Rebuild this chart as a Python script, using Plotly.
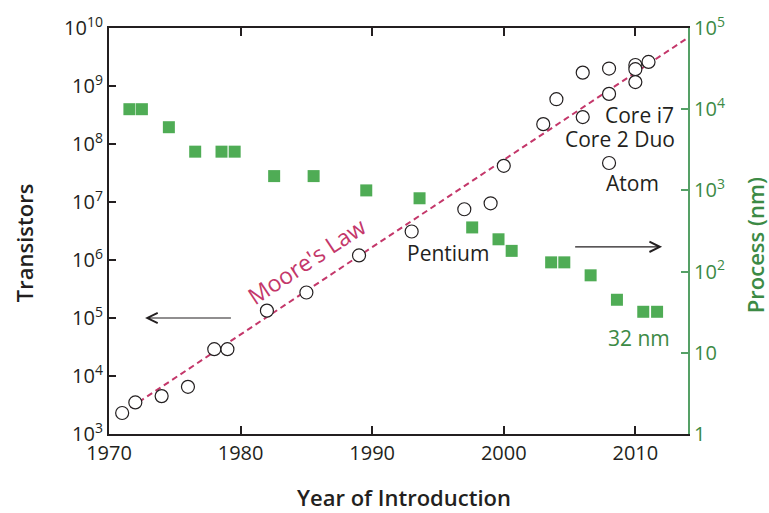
import plotly.graph_objects as go

# Transistor counts of microprocessors by year of introduction
chip_years = [1971, 1972, 1974, 1976, 1978, 1979, 1982, 1985, 1989, 1993,
              1997, 1999, 2000, 2003, 2004, 2006, 2006, 2008, 2008, 2008,
              2010, 2010, 2010, 2011]
chip_transistors = [2.3e3, 3.5e3, 4.5e3, 6.5e3, 2.9e4, 2.9e4, 1.34e5, 2.75e5,
                    1.2e6, 3.1e6, 7.5e6, 9.5e6, 4.2e7, 2.2e8, 5.92e8, 1.7e9,
                    2.91e8, 2.0e9, 7.31e8, 4.7e7, 2.3e9, 1.95e9, 1.17e9, 2.6e9]

# Manufacturing process feature size (nm)
process_years = [1971.55, 1972.5, 1974.55, 1976.55, 1978.55, 1979.55, 1982.55,
                 1985.55, 1989.55, 1993.6, 1997.6, 1999.6, 2000.6, 2003.6,
                 2004.6, 2006.6, 2008.6, 2010.6, 2011.65]
process_nm = [10000, 10000, 6000, 3000, 3000, 3000, 1500, 1500, 1000, 800,
              350, 250, 180, 130, 130, 90, 45, 32, 32]

# Moore's law trend: doubling every two years (end points)
moore_years = [1971, 2014]
moore_counts = [2.3e3, 6.8e9]

# Axis tick labels
year_ticks = [1970, 1980, 1990, 2000, 2010]
transistor_exponents = [3, 4, 5, 6, 7, 8, 9, 10]
process_exponents = [0, 1, 2, 3, 4, 5]

INK = "#231f20"
GREEN_TXT = "#3c8a45"
GREEN_AXIS = "#55a066"
GREEN_MARK = "#4fac55"
MOORE = "#c4376a"
FONT = "Open Sans"


def power_label(n):
    if n == 0:
        return "1"
    if n == 1:
        return "10"
    return "10<sup>%d</sup>" % n


def log_minor(lo, hi):
    """Minor tick positions 2..9 x 10^n for decades lo..hi-1."""
    return [k * 10 ** n for n in range(lo, hi) for k in range(2, 10)]


year_minor = [y for y in range(1972, 2015, 2) if y not in year_ticks]

fig = go.Figure()

fig.add_trace(go.Scatter(
    x=moore_years, y=moore_counts, mode="lines",
    line=dict(color=MOORE, width=2, dash="6px,4px"),
    hoverinfo="skip"))

fig.add_trace(go.Scatter(
    x=chip_years, y=chip_transistors, mode="markers",
    marker=dict(symbol="circle", size=13, color="white",
                line=dict(color=INK, width=1.2))))

fig.add_trace(go.Scatter(
    x=process_years, y=process_nm, mode="markers", yaxis="y2",
    marker=dict(symbol="square", size=12, color=GREEN_MARK,
                line=dict(width=0))))

# transparent copy on the top axis so that its frame and ticks are drawn
fig.add_trace(go.Scatter(
    x=moore_years, y=moore_counts, mode="lines", xaxis="x2",
    line=dict(color="rgba(0,0,0,0)", width=0), hoverinfo="skip"))

ann_font = dict(family=FONT, size=21, color=INK)
annotations = [
    dict(text="Moore's Law", x=1985.0, y=5.98, xref="x", yref="y",
         textangle=-33.5, showarrow=False,
         font=dict(family=FONT, size=23, color=MOORE)),
    dict(text="Pentium", x=1995.78, y=6.12, xref="x", yref="y",
         showarrow=False, font=ann_font),
    dict(text="Core i7", x=2010.3, y=8.5, xref="x", yref="y",
         showarrow=False, font=ann_font),
    dict(text="Core 2 Duo", x=2008.86, y=8.094, xref="x", yref="y",
         showarrow=False, font=ann_font),
    dict(text="Atom", x=2009.77, y=7.334, xref="x", yref="y",
         showarrow=False, font=ann_font),
    dict(text="32 nm", x=2010.3, y=1.186, xref="x", yref="y2",
         showarrow=False, font=dict(family=FONT, size=21, color=GREEN_TXT)),
    # arrows pointing to the axis each series belongs to
    dict(x=1972.74, y=5.0, ax=1979.38, ay=5.0, xref="x", yref="y",
         axref="x", ayref="y", text="", showarrow=True, arrowhead=5,
         arrowsize=1.7, arrowwidth=1.2, arrowcolor=INK),
    dict(x=2012.03, y=6.227, ax=2005.31, ay=6.227, xref="x", yref="y",
         axref="x", ayref="y", text="", showarrow=True, arrowhead=5,
         arrowsize=1.7, arrowwidth=1.2, arrowcolor=INK),
    # axis titles
    dict(text="Transistors", x=-0.1468, y=0.47, xref="paper", yref="paper",
         xanchor="center", yanchor="middle",
         textangle=-90, showarrow=False,
         font=dict(family=FONT, size=22, color=INK, weight=600)),
    dict(text="Process (nm)", x=1.1157, y=0.465, xref="paper", yref="paper",
         xanchor="center", yanchor="middle",
         textangle=-90, showarrow=False,
         font=dict(family=FONT, size=22, color=GREEN_TXT, weight=600)),
    dict(text="Year of Introduction", x=0.5095, y=-0.155, xref="paper",
         yref="paper", xanchor="center", yanchor="middle", showarrow=False,
         font=dict(family=FONT, size=22, color=INK, weight=600)),
]

x_base = dict(range=[1970, 2014], showgrid=False, zeroline=False,
              automargin=False, tickmode="array")
x_major = dict(**x_base, tickvals=year_ticks, ticks="inside", ticklen=8,
               tickwidth=1.5, tickcolor=INK)
x_minor = dict(**x_base, tickvals=year_minor, ticks="inside", ticklen=5,
               tickwidth=1.3, tickcolor=INK, showticklabels=False,
               showline=False, overlaying="x", anchor="y")

y_base = dict(type="log", showgrid=False, zeroline=False, automargin=False,
              tickmode="array")

fig.update_layout(
    width=769, height=513,
    margin=dict(l=109, r=81, t=28, b=79),
    plot_bgcolor="white", paper_bgcolor="white",
    showlegend=False,
    font=dict(family=FONT, size=20, color=INK),
    annotations=annotations,
    # bottom and top year axes (major), plus their minor tick overlays
    xaxis=dict(**x_major, showline=True, linecolor=INK, linewidth=2,
               tickfont=dict(family=FONT, size=20, color=INK)),
    xaxis2=dict(**x_major, showline=True, linecolor=INK, linewidth=2,
                overlaying="x", side="top", anchor="y",
                showticklabels=False),
    xaxis3=dict(**x_minor, side="bottom"),
    xaxis4=dict(**x_minor, side="top"),
    # transistor axis (left)
    yaxis=dict(
        **y_base, range=[3, 10],
        tickvals=[10 ** n for n in transistor_exponents],
        ticktext=[power_label(n) for n in transistor_exponents],
        ticks="inside", ticklen=7, tickwidth=1.5, tickcolor=INK,
        showline=True, linecolor=INK, linewidth=2,
        tickfont=dict(family=FONT, size=20, color=INK),
    ),
    # process axis (right)
    yaxis2=dict(
        **y_base, range=[0, 5], overlaying="y", side="right",
        tickvals=[10 ** n for n in process_exponents],
        ticktext=[power_label(n) for n in process_exponents],
        ticks="inside", ticklen=7, tickwidth=1.5, tickcolor=GREEN_AXIS,
        showline=True, linecolor=GREEN_AXIS, linewidth=2,
        tickfont=dict(family=FONT, size=20, color=GREEN_TXT),
    ),
    yaxis3=dict(
        **y_base, range=[3, 10], overlaying="y", side="left", anchor="x",
        tickvals=log_minor(3, 10), ticks="inside", ticklen=4,
        tickwidth=1.1, tickcolor=INK, showticklabels=False, showline=False,
    ),
    yaxis4=dict(
        **y_base, range=[0, 5], overlaying="y", side="right", anchor="x",
        tickvals=log_minor(0, 5), ticks="inside", ticklen=4,
        tickwidth=1.1, tickcolor=GREEN_AXIS, showticklabels=False,
        showline=False,
    ),
)

fig.write_html("out.html")
